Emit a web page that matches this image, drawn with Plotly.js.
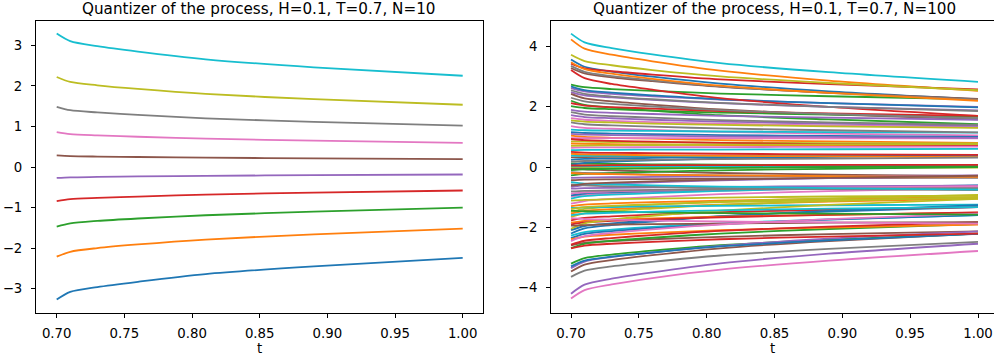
<!DOCTYPE html>
<html>
<head>
<meta charset="utf-8">
<script src="https://cdn.plot.ly/plotly-3.0.1.min.js"></script>
<style>
  html, body { margin: 0; padding: 0; background: #ffffff; }
  #chart { width: 994px; height: 358px; }
</style>
</head>
<body>
<div id="chart"></div>
<script>
// ---------- DATA ----------
// time grid (t from T=0.7 to 1)
const times = [0.70, 0.71, 0.73, 0.76, 0.81, 0.89, 1.00];

// N = 10 quantizer paths (values at each time of `times`)
const n10_path0 = [-3.27, -3.08, -2.96, -2.83, -2.64, -2.45, -2.24];
const n10_path1 = [-2.21, -2.09, -2.00, -1.91, -1.79, -1.66, -1.52];
const n10_path2 = [-1.47, -1.39, -1.33, -1.27, -1.19, -1.10, -1.00];
const n10_path3 = [-0.84, -0.79, -0.76, -0.73, -0.68, -0.63, -0.58];
const n10_path4 = [-0.27, -0.255, -0.245, -0.233, -0.218, -0.202, -0.185];
const n10_path5 = [0.285, 0.269, 0.258, 0.246, 0.230, 0.213, 0.195];
const n10_path6 = [0.86, 0.812, 0.781, 0.746, 0.698, 0.648, 0.595];
const n10_path7 = [1.485, 1.401, 1.346, 1.285, 1.201, 1.113, 1.02];
const n10_path8 = [2.22, 2.097, 2.015, 1.925, 1.802, 1.672, 1.535];
const n10_path9 = [3.29, 3.103, 2.978, 2.843, 2.656, 2.458, 2.25];

// N = 100 quantizer: one array per time point, 100 path values each (path order)
const n100_at_070 = [
  3.57, 4.24, 2.74, 3.43, 2.62, 3.29, 1.62, 3.36, 3.73, 4.43,
  2.68, 3.48, 2.20, 3.22, 2.49, 2.43, 1.36, 2.55, 1.55, 1.24,
  1.16, 1.04, 2.02, 2.12, 1.90, 0.32, 0.96, 2.30, 0.85, 0.56,
  0.24, 0.78, 0.12, 0.93, 1.72, -0.02, 0.64, 1.82, 0.70, 0.38,
  0.08, 0.44, -0.05, 0.50, 1.10, -0.03, -0.98, 1.48, 0.00, 0.02,
  -0.94, -1.30, -0.10, 0.05, -0.36, -0.44, -1.22, 0.18, -1.49, -1.05,
  -2.10, -1.55, -0.28, -1.77, -0.66, -2.60, -4.37, -0.17, -1.66, -1.36,
  -2.21, -1.85, -2.69, -1.91, -0.72, -3.47, -0.88, -0.58, -2.05, -2.28,
  -2.36, -2.40, -3.21, -2.58, -3.36, -1.95, -2.46, -0.81, -1.12, -0.50,
  -3.30, -0.20, -1.45, -2.70, -4.21, -0.62, -1.70, -3.65, -1.40, -1.60
];
const n100_at_071 = [
  3.33, 3.93, 2.65, 3.28, 2.51, 3.11, 1.57, 3.16, 3.52, 4.14,
  2.55, 3.25, 2.06, 2.95, 2.38, 2.28, 1.30, 2.43, 1.51, 1.22,
  1.13, 1.00, 1.96, 2.04, 1.84, 0.33, 0.96, 2.18, 0.84, 0.57,
  0.27, 0.77, 0.11, 0.89, 1.66, -0.02, 0.65, 1.74, 0.71, 0.37,
  0.14, 0.42, -0.04, 0.48, 1.08, -0.08, -0.92, 1.42, 0.00, 0.02,
  -0.88, -1.25, -0.08, 0.05, -0.35, -0.42, -1.13, 0.20, -1.39, -0.97,
  -1.96, -1.46, -0.23, -1.69, -0.60, -2.52, -4.09, -0.20, -1.54, -1.34,
  -2.04, -1.79, -2.55, -1.84, -0.70, -3.24, -0.84, -0.61, -1.87, -2.16,
  -2.22, -2.31, -3.03, -2.45, -3.14, -1.93, -2.30, -0.79, -1.09, -0.55,
  -3.11, -0.22, -1.47, -2.61, -3.91, -0.56, -1.73, -3.44, -1.33, -1.55
];
const n100_at_073 = [
  3.17, 3.73, 2.59, 3.18, 2.43, 2.98, 1.53, 3.02, 3.38, 3.95,
  2.47, 3.10, 1.97, 2.76, 2.31, 2.18, 1.27, 2.34, 1.48, 1.21,
  1.11, 0.97, 1.92, 1.99, 1.80, 0.34, 0.96, 2.10, 0.83, 0.57,
  0.28, 0.76, 0.10, 0.87, 1.62, -0.01, 0.65, 1.69, 0.72, 0.37,
  0.18, 0.41, -0.03, 0.47, 1.06, -0.11, -0.88, 1.38, 0.00, 0.02,
  -0.84, -1.21, -0.06, 0.06, -0.34, -0.41, -1.06, 0.22, -1.32, -0.92,
  -1.87, -1.40, -0.20, -1.64, -0.55, -2.46, -3.90, -0.22, -1.46, -1.33,
  -1.93, -1.75, -2.45, -1.79, -0.69, -3.09, -0.81, -0.64, -1.75, -2.08,
  -2.13, -2.25, -2.91, -2.36, -2.99, -1.91, -2.19, -0.78, -1.07, -0.58,
  -2.98, -0.24, -1.49, -2.55, -3.71, -0.52, -1.75, -3.30, -1.29, -1.52
];
const n100_at_076 = [
  3.00, 3.51, 2.53, 3.07, 2.35, 2.85, 1.49, 2.88, 3.22, 3.74,
  2.38, 2.93, 1.87, 2.57, 2.23, 2.07, 1.23, 2.25, 1.44, 1.20,
  1.09, 0.94, 1.87, 1.94, 1.76, 0.35, 0.96, 2.01, 0.82, 0.58,
  0.30, 0.75, 0.09, 0.84, 1.57, -0.01, 0.66, 1.64, 0.73, 0.37,
  0.22, 0.39, -0.02, 0.46, 1.04, -0.15, -0.84, 1.34, -0.01, 0.02,
  -0.80, -1.17, -0.05, 0.06, -0.33, -0.40, -1.00, 0.24, -1.25, -0.87,
  -1.77, -1.34, -0.16, -1.58, -0.51, -2.40, -3.69, -0.25, -1.38, -1.31,
  -1.81, -1.71, -2.35, -1.74, -0.68, -2.93, -0.78, -0.66, -1.62, -1.99,
  -2.03, -2.19, -2.78, -2.26, -2.84, -1.90, -2.07, -0.76, -1.05, -0.61,
  -2.84, -0.26, -1.51, -2.49, -3.50, -0.48, -1.78, -3.15, -1.24, -1.48
];
const n100_at_081 = [
  2.77, 3.20, 2.44, 2.91, 2.24, 2.66, 1.44, 2.68, 3.01, 3.45,
  2.25, 2.70, 1.72, 2.29, 2.12, 1.91, 1.17, 2.13, 1.40, 1.18,
  1.06, 0.89, 1.81, 1.86, 1.70, 0.36, 0.96, 1.89, 0.81, 0.58,
  0.33, 0.73, 0.08, 0.80, 1.51, -0.01, 0.66, 1.56, 0.74, 0.36,
  0.28, 0.37, -0.01, 0.44, 1.02, -0.20, -0.79, 1.28, -0.01, 0.03,
  -0.74, -1.12, -0.03, 0.06, -0.31, -0.39, -0.90, 0.26, -1.15, -0.79,
  -1.63, -1.25, -0.11, -1.50, -0.44, -2.32, -3.41, -0.28, -1.26, -1.29,
  -1.64, -1.65, -2.21, -1.67, -0.66, -2.70, -0.73, -0.70, -1.45, -1.87,
  -1.90, -2.10, -2.60, -2.12, -2.62, -1.88, -1.91, -0.74, -1.02, -0.65,
  -2.64, -0.28, -1.53, -2.40, -3.20, -0.42, -1.81, -2.94, -1.17, -1.44
];
const n100_at_089 = [
  2.51, 2.87, 2.35, 2.75, 2.12, 2.47, 1.38, 2.46, 2.79, 3.15,
  2.12, 2.46, 1.58, 2.00, 2.00, 1.75, 1.11, 2.00, 1.35, 1.16,
  1.03, 0.85, 1.74, 1.78, 1.64, 0.37, 0.95, 1.76, 0.79, 0.59,
  0.35, 0.72, 0.06, 0.76, 1.44, 0.00, 0.67, 1.48, 0.75, 0.36,
  0.34, 0.35, 0.00, 0.42, 1.00, -0.25, -0.72, 1.22, -0.01, 0.03,
  -0.68, -1.06, 0.00, 0.07, -0.30, -0.37, -0.80, 0.28, -1.04, -0.71,
  -1.48, -1.15, -0.06, -1.42, -0.37, -2.23, -3.11, -0.31, -1.13, -1.27,
  -1.46, -1.59, -2.06, -1.59, -0.64, -2.46, -0.69, -0.73, -1.26, -1.74,
  -1.75, -2.01, -2.41, -1.98, -2.38, -1.85, -1.73, -0.72, -0.98, -0.70,
  -2.44, -0.30, -1.55, -2.31, -2.88, -0.36, -1.84, -2.72, -1.10, -1.38
];
const n100_at_100 = [
  2.25, 2.53, 2.25, 2.58, 2.00, 2.26, 1.32, 2.24, 2.55, 2.83,
  1.98, 2.20, 1.42, 1.70, 1.88, 1.58, 1.05, 1.86, 1.30, 1.14,
  1.00, 0.80, 1.67, 1.70, 1.57, 0.38, 0.95, 1.62, 0.78, 0.60,
  0.38, 0.70, 0.05, 0.72, 1.37, 0.00, 0.68, 1.40, 0.76, 0.35,
  0.40, 0.33, 0.01, 0.40, 0.97, -0.30, -0.66, 1.15, -0.02, 0.03,
  -0.61, -1.00, 0.02, 0.07, -0.28, -0.35, -0.70, 0.31, -0.93, -0.62,
  -1.33, -1.05, 0.00, -1.33, -0.30, -2.14, -2.79, -0.35, -1.00, -1.25,
  -1.27, -1.52, -1.90, -1.51, -0.62, -2.21, -0.64, -0.77, -1.06, -1.60,
  -1.60, -1.91, -2.21, -1.83, -2.14, -1.83, -1.55, -0.70, -0.95, -0.75,
  -2.22, -0.33, -1.58, -2.21, -2.55, -0.29, -1.88, -2.49, -1.02, -1.33
];

// tick labels
const xTickVals = [0.70, 0.75, 0.80, 0.85, 0.90, 0.95, 1.00];
const xTickText = ['0.70', '0.75', '0.80', '0.85', '0.90', '0.95', '1.00'];
const yTickVals10 = [-3, -2, -1, 0, 1, 2, 3];
const yTickText10 = ['\u22123', '\u22122', '\u22121', '0', '1', '2', '3'];
const yTickVals100 = [-4, -2, 0, 2, 4];
const yTickText100 = ['\u22124', '\u22122', '0', '2', '4'];

const title10 = 'Quantizer of the process, H=0.1, T=0.7, N=10';
const title100 = 'Quantizer of the process, H=0.1, T=0.7, N=100';
const xLabel = 't';

// ---------- STYLE ----------
const palette = ['#1f77b4', '#ff7f0e', '#2ca02c', '#d62728', '#9467bd',
                 '#8c564b', '#e377c2', '#7f7f7f', '#bcbd22', '#17becf'];
const LW = 1.8;
const TICK_FS = 13.3;
const TITLE_FS = 15.2;

const paths10 = [n10_path0, n10_path1, n10_path2, n10_path3, n10_path4,
                 n10_path5, n10_path6, n10_path7, n10_path8, n10_path9];
const cols100 = [n100_at_070, n100_at_071, n100_at_073, n100_at_076,
                 n100_at_081, n100_at_089, n100_at_100];

const traces = [];
paths10.forEach((p, i) => {
  traces.push({
    type: 'scatter', mode: 'lines', x: times, y: p,
    xaxis: 'x', yaxis: 'y', showlegend: false, hoverinfo: 'skip',
    line: { color: palette[i % 10], width: LW, shape: 'spline', smoothing: 0.8 }
  });
});
for (let i = 0; i < n100_at_070.length; i++) {
  traces.push({
    type: 'scatter', mode: 'lines', x: times, y: cols100.map(c => c[i]),
    xaxis: 'x2', yaxis: 'y2', showlegend: false, hoverinfo: 'skip',
    line: { color: palette[i % 10], width: LW, shape: 'spline', smoothing: 0.8 }
  });
}

const FONT = 'DejaVu Sans, sans-serif';
const axisCommon = {
  showgrid: false, zeroline: false, showline: true, linecolor: '#000', linewidth: 1,
  ticks: 'outside', ticklen: 4, tickwidth: 1, tickcolor: '#000',
  tickfont: { family: FONT, size: TICK_FS, color: '#000' }, automargin: false,
  fixedrange: true
};

const layout = {
  width: 994, height: 358,
  margin: { l: 36, r: 0, t: 21, b: 45, pad: 0 },
  paper_bgcolor: '#ffffff', plot_bgcolor: '#ffffff',
  font: { family: FONT, size: TICK_FS, color: '#000' },
  showlegend: false,
  xaxis: Object.assign({}, axisCommon, {
    domain: [0, 0.4666], range: [0.6847, 1.0150], anchor: 'y', mirror: true,
    tickmode: 'array', tickvals: xTickVals, ticktext: xTickText, ticklabelstandoff: 4,
    title: { text: xLabel, font: { family: FONT, size: TICK_FS, color: '#000' }, standoff: 1 }
  }),
  yaxis: Object.assign({}, axisCommon, {
    domain: [0, 1], range: [-3.6, 3.6], anchor: 'x', mirror: true,
    tickmode: 'array', tickvals: yTickVals10, ticktext: yTickText10, ticklabelstandoff: 6
  }),
  xaxis2: Object.assign({}, axisCommon, {
    domain: [0.5376, 1], range: [0.68526, 1.01179], anchor: 'y2', mirror: true,
    tickmode: 'array', tickvals: xTickVals, ticktext: xTickText, ticklabelstandoff: 4,
    title: { text: xLabel, font: { family: FONT, size: TICK_FS, color: '#000' }, standoff: 1 }
  }),
  yaxis2: Object.assign({}, axisCommon, {
    domain: [0, 1], range: [-4.85, 4.85], anchor: 'x2', mirror: false,
    tickmode: 'array', tickvals: yTickVals100, ticktext: yTickText100, ticklabelstandoff: 6
  }),
  annotations: [
    { text: title10, xref: 'paper', yref: 'paper', x: 0.2328, y: 1,
      xanchor: 'center', yanchor: 'bottom', yshift: 1, showarrow: false,
      font: { family: FONT, size: TITLE_FS, color: '#000' } },
    { text: title100, xref: 'paper', yref: 'paper', x: 0.7704, y: 1,
      xanchor: 'center', yanchor: 'bottom', yshift: 1, showarrow: false,
      font: { family: FONT, size: TITLE_FS, color: '#000' } }
  ]
};

Plotly.newPlot('chart', traces, layout, { staticPlot: true, displayModeBar: false });
</script>
</body>
</html>
